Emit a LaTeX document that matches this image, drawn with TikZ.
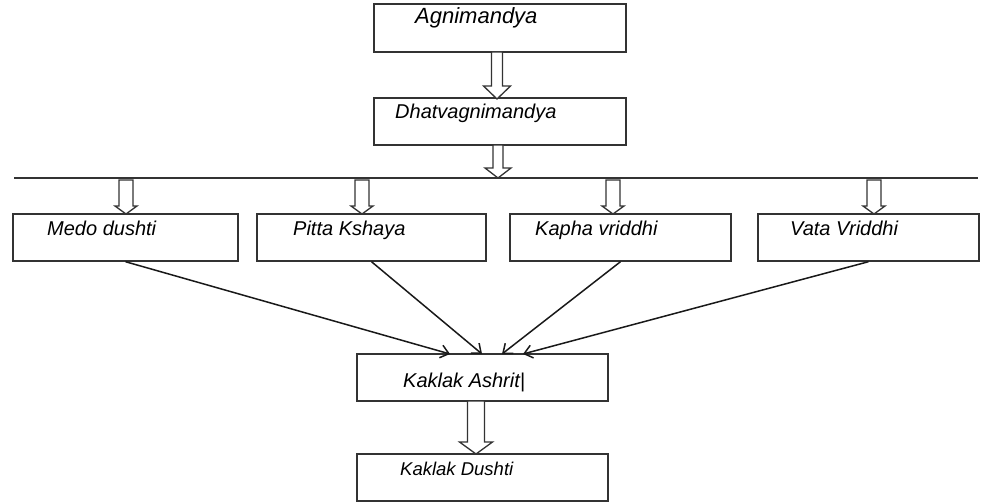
\documentclass[tikz,border=0pt]{standalone}
\usepackage{fontspec}
\setmainfont{Liberation Sans}
\usepackage{tikz}
\usetikzlibrary{calc}
\usetikzlibrary{arrows.meta}
\usetikzlibrary{positioning}
\tikzset{>={Straight Barb[length=8pt,width=13pt]}}
\tikzset{
  box/.style={draw=black!80,line width=1.4pt,minimum height=47pt,inner sep=0pt},
  lbl/.style={anchor=base west,inner sep=0pt,font=\fontsize{20}{24}\selectfont\itshape},
  hollow/.style={draw=black!80,line width=1.3pt,fill=white},
  link/.style={->,line width=1.5pt,black!90}
}
% hollow block arrow: from, to, shaft half, head half, head length
\newcommand{\blockarrow}[5]{%
  \draw[hollow] let \p1=(#1), \p2=(#2) in
    (\x1-#3,\y1) -- (\x1-#3,\y2+#5) -- (\x1-#4,\y2+#5) -- (\x1,\y2)
    -- (\x1+#4,\y2+#5) -- (\x1+#3,\y2+#5) -- (\x1+#3,\y1) -- cycle;}

\begin{document}
\begin{tikzpicture}[x=1pt,y=-1pt]
                \useasboundingbox (0,0) rectangle (988,503);
                \node[box,minimum width=252pt,minimum height=48pt] (agni) at (500,28) {};
                \node[box,minimum width=252pt] (dhatu) at (500,121.5) {};
                \node[box,minimum width=225pt] (medo) at (125.5,237.5) {};
                \node[box,minimum width=229pt] (pitta) at (371.5,237.5) {};
                \node[box,minimum width=221pt] (kapha) at (620.5,237.5) {};
                \node[box,minimum width=221pt] (vata) at (868.5,237.5) {};
                \node[box,minimum width=251pt] (ashrit) at (482.5,377.5) {};
                \node[box,minimum width=251pt] (dushti) at (482.5,477.5) {};

                \node[lbl,font=\fontsize{22}{26}\selectfont\itshape] (agnit) at (415,24) {Agnimandya};
                \node[lbl] (dhatut) at (395,118) {Dhatvagnimandya};
                \node[lbl] (medot) at (47,235) {Medo dushti};
                \node[lbl] (pittat) at (293,235) {Pitta Kshaya};
                \node[lbl] (kaphat) at (535,235) {Kapha vriddhi};
                \node[lbl] (vatat) at (790,235) {Vata Vriddhi};
                \node[lbl] (ashritt) at (403,387) {Kaklak Ashrit|};
                \node[lbl,font=\fontsize{18.5}{22}\selectfont\itshape] (dushtit) at (400,475) {Kaklak Dushti};

                % the dividing line
                \coordinate (lineL) at (14,178);
                \coordinate (lineR) at (978,178);
                \draw[black!80,line width=1.4pt] (lineL) -- (lineR);

                % block arrows
                \coordinate (a1) at (497,52);  \coordinate (b1) at (497,99);
                \coordinate (a2) at (498,145); \coordinate (b2) at (498,178);
                \coordinate (a3) at (476,401); \coordinate (b3) at (476,454);
                \blockarrow{a1}{b1}{5.5}{13.5}{13}
                \blockarrow{a2}{b2}{5}{13}{10}
                \blockarrow{a3}{b3}{8.5}{16.5}{12}
                \foreach \nm/\xx in {m/126,p/362,k/613,v/874}{
                  \coordinate (s\nm) at (\xx,180);
                  \coordinate (e\nm) at (\xx,214);
                  \blockarrow{s\nm}{e\nm}{7}{11}{8}
                }

                % converging arrows
                \coordinate (t1) at (450,354);
                \coordinate (t2) at (482,354);
                \coordinate (t3) at (502,354);
                \coordinate (t4) at (523,354);
                \path[link]
                  (medo.south) edge (t1)
                  (pitta.south) edge (t2)
                  (kapha.south) edge (t3)
                  (vata.south) edge (t4);
            \end{tikzpicture}
\end{document}
